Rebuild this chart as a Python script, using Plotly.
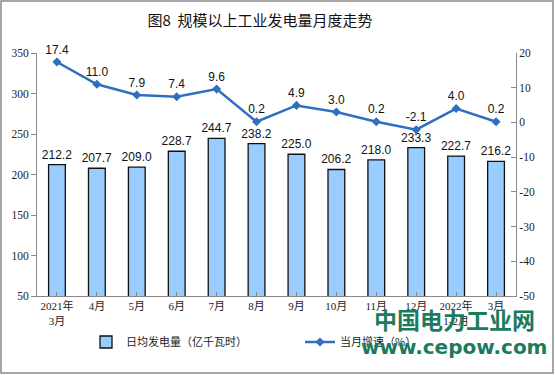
import plotly.graph_objects as go

categories = ["2021年<br>3月", "4月", "5月", "6月", "7月", "8月", "9月", "10月", "11月", "12月", "2022年<br>1-2月", "3月"]
daily_output = [212.2, 207.7, 209.0, 228.7, 244.7, 238.2, 225.0, 206.2, 218.0, 233.3, 222.7, 216.2]
growth_rate = [17.4, 11.0, 7.9, 7.4, 9.6, 0.2, 4.9, 3.0, 0.2, -2.1, 4.0, 0.2]
left_ticks = [50, 100, 150, 200, 250, 300, 350]
right_ticks = [-50, -40, -30, -20, -10, 0, 10, 20]
right_tick_labels = ["-50", "-40", "-30", "-20", "-10", "0", "10", "20"]

xs = list(range(len(categories)))
label_font = dict(family="Liberation Sans Narrow, Arial, sans-serif", size=12, color="#111111")
axis_font = dict(family="Liberation Serif, Noto Sans CJK SC, serif", size=11.5, color="#222222")

fig = go.Figure()
fig.add_trace(go.Bar(
    x=xs, y=daily_output, name="日均发电量（亿千瓦时）",
    marker=dict(color="#99CCFF", line=dict(color="#111111", width=1.3)),
    width=0.42,
    text=[f"{v:.1f}" for v in daily_output], textposition="outside",
    textfont=label_font, outsidetextfont=label_font, constraintext="none", cliponaxis=False,
))
fig.add_trace(go.Scatter(
    x=xs, y=growth_rate, name="当月增速（%）", yaxis="y2",
    mode="lines+markers+text",
    line=dict(color="#2E6FC0", width=2.5),
    marker=dict(symbol="diamond", size=7, color="#2E6FC0"),
    text=[f"{v:.1f}" for v in growth_rate], textposition="top center",
    textfont=label_font, cliponaxis=False,
))

L, R, T, B = 37, 39, 53, 79
W, H = 555, 375
pw, ph = W - L - R, H - T - B

fig.update_layout(
    width=W, height=H,
    margin=dict(l=L, r=R, t=T, b=B),
    paper_bgcolor="white", plot_bgcolor="white",
    title=dict(text="图8  规模以上工业发电量月度走势", x=260 / W, xanchor="center", y=1 - 21 / H, yanchor="middle",
               font=dict(family="Noto Sans CJK SC, sans-serif", size=15, color="#111111")),
    xaxis=dict(range=[-0.5, 11.5], tickmode="array", tickvals=xs, ticktext=categories,
               tickson="boundaries", ticks="inside", ticklen=4, tickcolor="#888888",
               showline=True, linecolor="#888888", linewidth=1, showgrid=False,
               tickfont=dict(family="Liberation Serif, Noto Sans CJK SC, serif", size=11, color="#222222")),
    yaxis=dict(range=[50, 350], tickmode="array", tickvals=left_ticks, ticks="outside", ticklen=5,
               tickcolor="#888888", showline=True, linecolor="#888888", linewidth=1,
               showgrid=False, zeroline=False, tickfont=axis_font),
    yaxis2=dict(range=[-50, 20], tickmode="array", tickvals=right_ticks, ticktext=right_tick_labels,
                overlaying="y", side="right", ticks="inside", ticklen=5,
                tickcolor="#888888", showline=True, linecolor="#888888", linewidth=1,
                showgrid=False, zeroline=False, tickfont=axis_font),
    legend=dict(orientation="h", x=(86 - L) / pw, xanchor="left", y=-(342 - (T + ph)) / ph, yanchor="middle",
                entrywidth=169, entrywidthmode="pixels", tracegroupgap=0,
                font=dict(family="Noto Sans CJK SC, sans-serif", size=11, color="#222222")),
    showlegend=True,
)

# outer frame
fig.add_shape(type="rect", xref="paper", yref="paper",
              x0=(1 - L) / pw, x1=(W - 2 - L) / pw, y0=-(H - 2 - T - ph) / ph, y1=(T - 1) / ph + 1,
              line=dict(color="#888888", width=1.5), fillcolor="rgba(0,0,0,0)", layer="above")

# watermark
fig.add_annotation(text="<b>中国电力工业网</b>", xref="paper", yref="paper",
                   x=(454 - L) / pw, y=-(319 - (T + ph)) / ph, xanchor="center", yanchor="middle",
                   showarrow=False,
                   font=dict(family="Noto Sans CJK SC, sans-serif", size=23, color="#1B7B5C"))
fig.add_annotation(text="<b>www.cepow.com</b>", xref="paper", yref="paper",
                   x=(454 - L) / pw, y=-(347 - (T + ph)) / ph, xanchor="center", yanchor="middle",
                   showarrow=False,
                   font=dict(family="DejaVu Sans, sans-serif", size=20, color="#1B7B5C"))

fig.write_html("out.html", config={"displayModeBar": False},
               post_script="document.body.style.margin='0px';")
